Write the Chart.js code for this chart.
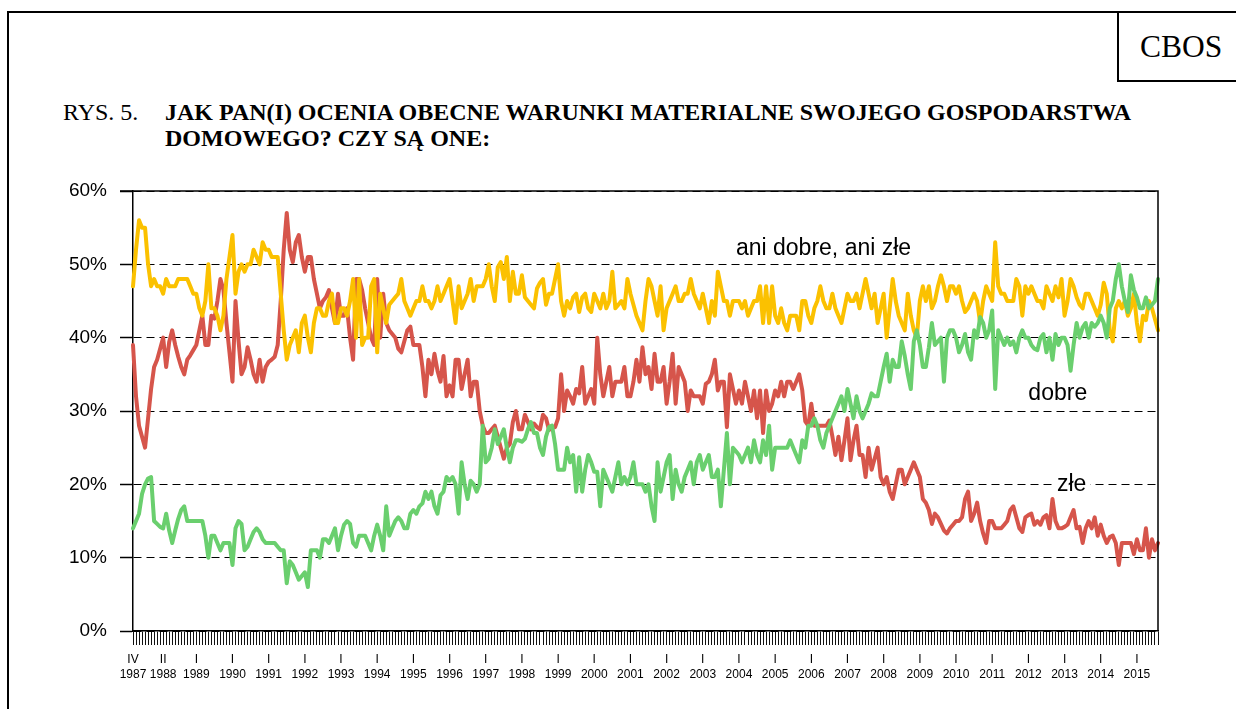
<!DOCTYPE html>
<html>
<head>
<meta charset="utf-8">
<script src="https://cdn.jsdelivr.net/npm/chart.js@4.4.0/dist/chart.umd.min.js"></script>
<style>
  html, body { margin: 0; padding: 0; background: #fff; }
  body { width: 1236px; height: 709px; position: relative; overflow: hidden; font-family: "Liberation Serif", "Times New Roman", serif; color: #000; }
  #frame { position: absolute; left: 7px; top: 11px; width: 1300px; height: 800px; border: 2px solid #000; box-sizing: border-box; }
  #cbos { position: absolute; left: 1117px; top: 11px; width: 200px; height: 71px; border: 2px solid #000; box-sizing: border-box; font-size: 31.5px; line-height: 67px; padding-left: 21px; }
  #rys { position: absolute; left: 63px; top: 99px; font-size: 24px; line-height: 26px; }
  #title { position: absolute; left: 165px; top: 99px; font-size: 24px; line-height: 26px; font-weight: bold; }
  #chart { position: absolute; left: 0; top: 0; }
</style>
</head>
<body>
<div id="frame"></div>
<div id="cbos">CBOS</div>
<div id="rys">RYS. 5.</div>
<div id="title">JAK PAN(I) OCENIA OBECNE WARUNKI MATERIALNE SWOJEGO GOSPODARSTWA<br>DOMOWEGO? CZY SĄ ONE:</div>
<canvas id="chart" width="1236" height="709"></canvas>
<script>
// monthly surveys, IV 1987 .. VIII 2015
const startYear = 1987, startMonth = 4, monthCount = 341;
const romans = ['I','II','III','IV','V','VI','VII','VIII','IX','X','XI','XII'];

// "ani dobre, ani złe"
const ani = [
  47,52,56,55,55,50,47,48,47,
  47,46,48,47,47,47,48,48,48,48,47,46,
  46,44,43,45,50,44,44,43,41,43,48,51,
  54,46,49,50,49,50,50,52,51,50,53,52,
  52,51,51,51,46,41,37,39,40,41,38,42,
  43,40,38,42,44,44,43,43,45,46,42,42,
  44,44,43,45,48,40,48,39,40,40,47,48,
  38,46,44,42,44.5,45,45.5,46,48,45,44,43,
  44,45,45,47,45,45,44,45,47,45,46,47,
  48,45,42,47,44,45,46,48,45,47,47,47,
  48,50,47,45,49.6,50.3,48,51,45,49,46,46,
  48.5,45.5,45,44.5,44,46.7,47.5,48,44.5,46,46,48,
  50,45,43,45,44,45.5,46,43.5,45.5,46,44,43.5,
  46,45,44,46,44,45,49,44,44.5,45,44,48,
  46,44.5,43,42,41,45,48,47,45,43,47,41,
  44,45,46,47,45,45,46,46,48,46,45,44,
  46,44,42,45,43,49,47,45,45,43,45,45,
  45,44,45,43,44,45,45,47,42,47,42,47,
  43,42,44,42,41,43,43,43,41,45,45,43,
  42,44,45,47,45,44,44,46,44,43,42,44,
  46,45,45,46,44,46,48,46,44,46,42,44,
  46,40,44,48,45,43,42,41,46,43,41,40,
  45,47,45,47,44,45,47,48.5,47,45,47,47,
  46,47,45,43.5,44,45,46,45,42,45,47,46,
  45,53,47,46,46,45,45,45,48,47,43,47,
  46,47,46,45,45,44,47,46,45,47,45.5,48,
  43,45,48,47,45.5,44.5,44,46,46,45,44,43,
  44.5,47.5,46,41,39.5,44,45,44,45,43,44,46,
  42,39.5,43,42.4,45,44,42.5,41
];

// "złe"
const zle = [
  39,32,28,26.5,25,29,33,36,37,
  38.5,40,36,39.4,41,39,37.4,36,35,37,37.6,38.3,
  39,41,43,39,39,43,42.6,45,48,46.5,42,38,
  34,45,39.6,35,36,38.7,37,35,34,37,34,36,
  36.7,37,37.4,39,45,52,57,52,50.3,53,54,51,
  49,51,51,48,46,44,45,45.5,46.5,44,42,46,
  43,43,44,40,37,48,48,46.5,44,42,40,39,
  48,40,46,42,41,40.5,40,38.5,38,39.5,41,41.5,
  39,39,39,36,32,37,35,37.8,35.5,34,37.5,32,
  33.5,32,37,37,33,35,37,32,34,34,30,28,
  27,27,27.5,28,26.5,25,23.5,25,25.5,28.5,30,27.5,
  27.5,29.5,28.5,27.5,28.3,27.8,27.5,29.5,29,27.4,27.8,27.8,
  29,35,30,32.8,32,31,33,32.4,36,31,32,33,
  31,40,35,32,34,36,32,34,34,34,36,32,
  32,34,37,34,38.7,35,36,33,37.8,34,34,36,
  31,34,37.8,31,36,35,34,30,32.8,32,32,32,
  31,33.7,34,35,37,32.8,34,34,27.8,35,33,31,
  32.8,31,34,32,30,32.8,29,32.8,27,32.8,30,31,
  32.8,32,34,32,34,34,33,34,35,32.8,28.6,28,
  31,28,28,28,28,28,28.7,26.5,24,26.5,23.3,26,
  29,23.3,26,28,24,24,21,25,22,23.5,25,21,
  20,21,19,18,20,22,22,20,21,22,23,22,
  21,18,17.5,16.5,14.6,16,15.5,14.6,13.7,13.3,14,14.5,
  15,15,15.5,18,19,15,16,17.5,15,13.3,12,15,
  15,14,14,14,14.5,15,16.5,17,15.5,14,13.5,15.5,
  15.8,16,14.5,15,14.5,15.5,15.8,14,18,15,14,14,
  14.2,14.5,15.5,16.5,14,14.2,12,14,15,14,15.5,13,
  14.5,13,12,12.8,13,12,9,12,12,12,12,10.5,
  12.5,11,11,14,10,12.5,11,12
];

// "dobre"
const dobre = [
  14,15,16,18.7,20,20.8,21,15,14.6,
  14.2,14,16,13.7,12,13.7,15.3,16.5,17,15,15,15,
  15,15,15,13,10,13,13,12,11,12,12,12,
  9,14,15,14.6,11,11.5,12.5,13.5,14,13.5,12.5,12,
  12,12,12,11.5,11,11,6.5,9.5,9,8,7,7.5,
  8,6,11,11,11,10,12.5,12.5,12,13,14,11,
  13,14.5,15,14.6,12,11.5,13,13,13,12,11,13,
  14.5,13,11,17,13,14,15,15.5,15,14,14,16,
  16.5,16,17,17.4,19,18,19,17,16,18.5,19,21,
  20.5,21,20,16,23,20,18,20.5,20,19,20,28,
  23,23.5,25,27.5,25.5,26.5,27.5,25,23,25,26,26,
  25.8,26.2,27.5,28.5,27,27,25,24,26.5,27.8,28,25.5,
  22,22,22,25,23,24,19,23.7,19,22,24,23,
  21.7,21.7,17,22,21,20,19,21,23,20,21,20,
  21,23,20,20,20,19,20,17,15,23,19,21,
  23,24,18,22,20,19,21,22,23,20,23,24,
  22,23,24,21,21,22,17,22,27,20,25,24.5,
  24,23,24,25,23,26,24,23,26,24,28,22,
  25,25,25,25,25,26,25,24,23,26,25,28,
  28,29,28,26,25,27,28,29,30,31,32,30,
  33,31,29,32,30,29,30,31,32.4,32,32,34,
  36,37.8,34,37,36,36,39.5,37.5,35,33,39.5,41,
  39,36,36,38.7,42,39,39.5,40,34,40,41,41,
  40,38,39,40.5,38,37,41,40,42.8,42,40,41,
  43.7,33,41,40,39,40,39,39.5,38,40,41,40,
  40,39,38.5,38.3,40,40.5,38,40,37,40.5,39,40,
  40,39,35.5,39,42,40,41.4,42,40,42,41.5,42,
  43,42,40,44,45,48,50,47,45,43.5,48.5,46.5,
  45.5,44,44,45.5,44,44.5,45,48
];

// labels on the axis: month (roman) over year
const markedMonths = [[1987, 4], [1988, 2]];
for (let y = 1989; y <= 2015; y++) markedMonths.push([y, 1]);

const labels = [];
for (let i = 0; i < monthCount; i++) {
  const t = startMonth - 1 + i;
  labels.push((startYear + Math.floor(t / 12)) + '-' + romans[t % 12]);
}
const tickText = labels.map((l, i) => {
  const t = startMonth - 1 + i;
  const y = startYear + Math.floor(t / 12), m = t % 12 + 1;
  const hit = markedMonths.some(p => p[0] === y && p[1] === m);
  return hit ? [romans[m - 1], String(y)] : '';
});

// text placed on the lines
const notes = [
  { text: 'ani dobre, ani złe', at: 200, value: 52.2, clear: false },
  { text: 'dobre', at: 297, value: 32.3, clear: false },
  { text: 'złe', at: 306.5, value: 20, clear: true }
];

const plotFrame = {
  id: 'plotFrame',
  afterDatasetsDraw(chart) {
    const { ctx, chartArea: a, scales } = chart;
    ctx.save();
    ctx.strokeStyle = '#000';
    ctx.lineWidth = 1.5;
    ctx.beginPath();
    ctx.moveTo(a.left - 13, a.top);
    ctx.lineTo(a.right, a.top);
    ctx.lineTo(a.right, a.bottom);
    ctx.stroke();
    ctx.font = '23px "Liberation Sans", Arial, sans-serif';
    ctx.textBaseline = 'middle';
    ctx.textAlign = 'left';
    notes.forEach(n => {
      const x = scales.x.getPixelForValue(n.at);
      const y = scales.y.getPixelForValue(n.value);
      if (n.clear) {
        const w = ctx.measureText(n.text).width;
        ctx.fillStyle = '#fff';
        ctx.fillRect(x - 4, y - 3, w + 8, 6);
      }
      ctx.fillStyle = '#000';
      ctx.fillText(n.text, x, y);
    });
    ctx.restore();
  }
};

const lineStyle = { pointRadius: 0, borderWidth: 4, tension: 0, borderCapStyle: 'round', borderJoinStyle: 'round', fill: false };

const ctx = document.getElementById('chart').getContext('2d');
const chart = new Chart(ctx, {
  type: 'line',
  data: {
    labels: labels,
    datasets: [
      Object.assign({ label: 'dobre', data: dobre, borderColor: '#6ACF6E' }, lineStyle),
      Object.assign({ label: 'ani dobre, ani złe', data: ani, borderColor: '#FBC100' }, lineStyle),
      Object.assign({ label: 'złe', data: zle, borderColor: '#D6554B' }, lineStyle)
    ]
  },
  options: {
    responsive: false,
    animation: false,
    devicePixelRatio: 1,
    layout: { padding: { left: 0, top: 191, right: 78, bottom: 18 } },
    plugins: {
      legend: { display: false },
      tooltip: { enabled: false },
      title: { display: false }
    },
    scales: {
      x: {
        offset: false,
        afterFit(scale) { scale.height = 60; },
        grid: { drawOnChartArea: false, drawTicks: true, tickLength: 14, tickColor: '#111', tickWidth: 1 },
        border: { display: true, color: '#000', width: 1.5 },
        ticks: {
          autoSkip: false,
          maxRotation: 0,
          minRotation: 0,
          padding: 7,
          color: '#000',
          font: { family: 'Liberation Sans', size: 12, lineHeight: 1.25 },
          callback: (v, i) => tickText[i]
        }
      },
      y: {
        min: 0,
        max: 60,
        afterFit(scale) { scale.width = 133; },
        grid: { color: '#000', lineWidth: 1, tickLength: 13, tickColor: '#000', tickWidth: 1.5 },
        border: { display: true, color: '#000', width: 1.5, dash: [8, 5] },
        ticks: {
          stepSize: 10,
          padding: 13,
          color: '#000',
          font: { family: 'Liberation Sans', size: 19 },
          callback: v => v + '%'
        }
      }
    }
  },
  plugins: [plotFrame]
});
</script>
</body>
</html>
